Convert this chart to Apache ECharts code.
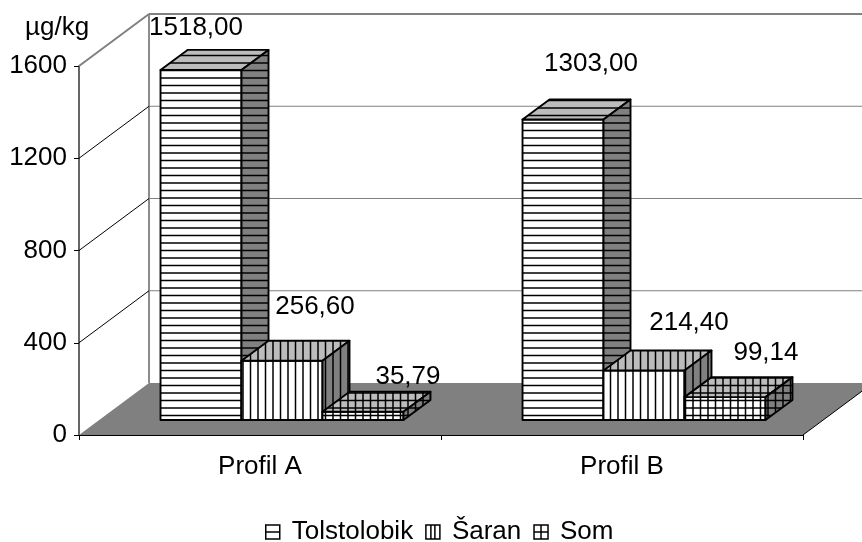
<!DOCTYPE html>
<html><head><meta charset="utf-8">
<style>html,body{margin:0;padding:0;background:#fff}#c{width:862px;height:542px}</style>
<script src="https://cdn.jsdelivr.net/npm/echarts@6/dist/echarts.min.js"></script>
</head><body><div id="c"></div>
<script>
var categories = ['Profil A', 'Profil B'];
var tolstolobik = [1518, 1303];
var saran = [256.6, 214.4];
var som = [35.79, 99.14];
var yTicks = [0, 400, 800, 1200, 1600];
var seriesNames = ['Tolstolobik', 'Šaran', 'Som'];

var FONT = '"Liberation Sans", Arial, sans-serif';
var FS = 26;
var WALL_DX = 70, WALL_DY = -52;      // full floor depth
var PLANE_DX = 22, PLANE_DY = -15;    // bars' front plane inside the floor
var BAR_DX = 27, BAR_DY = -20;        // bar depth
var labelOffsets = [
  [[-5, -42], [28, -56]],
  [[33, -54], [45, -48]],
  [[45, -35], [41, -44]]
];

function pattern(kind, bg) {
  var c = document.createElement('canvas');
  c.width = 15; c.height = 15;
  var g = c.getContext('2d');
  g.fillStyle = bg; g.fillRect(0, 0, 15, 15);
  g.strokeStyle = '#000'; g.lineWidth = 1.5;
  g.beginPath();
  [3, 10.5].forEach(function (p) {
    if (kind !== 'v') { g.moveTo(0, p); g.lineTo(15, p); }
    if (kind !== 'h') { g.moveTo(p, 0); g.lineTo(p, 15); }
  });
  g.stroke();
  return { image: c, repeat: 'repeat' };
}
var kinds = ['h', 'v', 'g'];
var fills = kinds.map(function (k) {
  return { front: pattern(k, '#ffffff'), top: pattern(k, '#bcbcbc'), side: pattern(k, '#808080') };
});

function renderWall(params, api) {
  var v = api.value(0);
  var rect = params.coordSys;
  var p = api.coord([0, v]);
  var x0 = rect.x, x1 = rect.x + rect.width, y = p[1];
  var kids = [];
  if (v === 0) {
    kids.push({ type: 'polygon', shape: { points: [[x0, y], [x0 + WALL_DX, y + WALL_DY], [x1 + WALL_DX, y + WALL_DY], [x1, y]] },
      style: { fill: '#808080', stroke: null } });
    kids.push({ type: 'line', shape: { x1: x1, y1: y, x2: x1 + WALL_DX, y2: y + WALL_DY }, style: { stroke: '#000', lineWidth: 1 } });
    kids.push({ type: 'line', shape: { x1: x0 + WALL_DX, y1: rect.y + WALL_DY, x2: x0 + WALL_DX, y2: y + WALL_DY }, style: { stroke: '#8c8c8c', lineWidth: 2 } });
  } else {
    var top = v === yTicks[yTicks.length - 1];
    kids.push({ type: 'line', shape: { x1: x0 + WALL_DX, y1: y + WALL_DY, x2: x1 + WALL_DX, y2: y + WALL_DY },
      style: { stroke: '#808080', lineWidth: top ? 2 : 1 } });
    kids.push({ type: 'line', shape: { x1: x0, y1: y, x2: x0 + WALL_DX, y2: y + WALL_DY },
      style: { stroke: top ? '#808080' : '#000', lineWidth: top ? 2 : 1 } });
  }
  return { type: 'group', children: kids };
}

function barRenderer(s) {
  return function (params, api) {
    var cat = api.value(0), val = api.value(1);
    var base = api.coord([cat, 0]), tip = api.coord([cat, val]);
    var w = api.size([1, 0])[0] / 4.47;
    var xl = base[0] + PLANE_DX + (s - 1.5) * w, xr = xl + w;
    var yb = base[1] + PLANE_DY, yt = tip[1] + PLANE_DY;
    var stroke = { stroke: '#000', lineWidth: 1.9, lineJoin: 'round' };
    function face(pts, fill) {
      return { type: 'polygon', shape: { points: pts }, style: Object.assign({ fill: fill }, stroke) };
    }
    var f = fills[s];
    return { type: 'group', children: [
      face([[xl, yb], [xr, yb], [xr, yt], [xl, yt]], f.front),
      face([[xl, yt], [xr, yt], [xr + BAR_DX, yt + BAR_DY], [xl + BAR_DX, yt + BAR_DY]], f.top),
      face([[xr, yb], [xr + BAR_DX, yb + BAR_DY], [xr + BAR_DX, yt + BAR_DY], [xr, yt]], f.side)
    ] };
  };
}

function labelRenderer(params, api) {
  var s = api.value(0), cat = api.value(1), val = api.value(2);
  var base = api.coord([cat, 0]), tip = api.coord([cat, val]);
  var w = api.size([1, 0])[0] / 4.47;
  var cx = base[0] + PLANE_DX + (s - 1) * w;
  var off = labelOffsets[s][cat];
  return { type: 'text', style: {
    text: val.toFixed(2).replace('.', ','), x: cx + off[0], y: tip[1] + PLANE_DY + off[1],
    fill: '#000', font: FS + 'px ' + FONT, align: 'center', verticalAlign: 'middle' } };
}

function barData(arr) { return arr.map(function (v, i) { return [i, v]; }); }
var values = [tolstolobik, saran, som];
var labelData = [];
values.forEach(function (arr, s) { arr.forEach(function (v, c) { labelData.push([s, c, v]); }); });

var chart = echarts.init(document.getElementById('c'), null, { renderer: 'canvas' });
var st = { color: '#fff', borderColor: '#000', borderWidth: 1.5 };
chart.setOption({
  animation: false,
  backgroundColor: '#fff',
  title: { text: 'µg/kg', left: 20, top: 10, textStyle: { fontFamily: FONT, fontSize: FS, fontWeight: 'normal', color: '#000' } },
  grid: { left: 79, right: 59, top: 66, bottom: 107, containLabel: false },
  legend: {
    left: 265, top: 519, padding: 0, itemWidth: 14, itemHeight: 14, itemGap: 12,
    textStyle: { fontFamily: FONT, fontSize: FS, color: '#000', padding: [0, 0, 0, 7] },
    data: [
      { name: seriesNames[0], icon: 'path://M0 0H14V14H0Z M0 7H14', itemStyle: st },
      { name: seriesNames[1], icon: 'path://M0 0H14V14H0Z M5 0V14 M9 0V14', itemStyle: st },
      { name: seriesNames[2], icon: 'path://M0 0H14V14H0Z M0 7H14 M7 0V14', itemStyle: st }
    ]
  },
  xAxis: {
    type: 'category', data: categories, boundaryGap: true,
    axisLine: { show: true, lineStyle: { color: '#000', width: 1 } },
    axisTick: { show: true, length: 5, alignWithLabel: false, lineStyle: { color: '#000' } },
    axisLabel: { fontFamily: FONT, fontSize: FS, color: '#000', margin: 19 },
    splitLine: { show: false }
  },
  yAxis: {
    type: 'value', min: 0, max: 1600, interval: 400,
    axisLine: { show: true, lineStyle: { color: '#333', width: 1.5 } },
    axisTick: { show: true, length: 5, lineStyle: { color: '#000' } },
    axisLabel: { fontFamily: FONT, fontSize: FS, color: '#000', margin: 12, padding: [3, 0, 0, 0],
      formatter: function (v) { return String(v); } },
    splitLine: { show: false }
  },
  series: [
    { type: 'custom', name: 'walls', z: 1, silent: true, renderItem: renderWall,
      data: yTicks.map(function (v) { return [v]; }), encode: { y: 0 } },
    { type: 'custom', name: seriesNames[0], z: 2, renderItem: barRenderer(0), data: barData(tolstolobik), encode: { x: 0, y: 1 } },
    { type: 'custom', name: seriesNames[1], z: 3, renderItem: barRenderer(1), data: barData(saran), encode: { x: 0, y: 1 } },
    { type: 'custom', name: seriesNames[2], z: 4, renderItem: barRenderer(2), data: barData(som), encode: { x: 0, y: 1 } },
    { type: 'custom', name: 'labels', z: 5, silent: true, renderItem: labelRenderer, data: labelData, encode: { x: 1, y: 2 } }
  ]
});
</script></body></html>
